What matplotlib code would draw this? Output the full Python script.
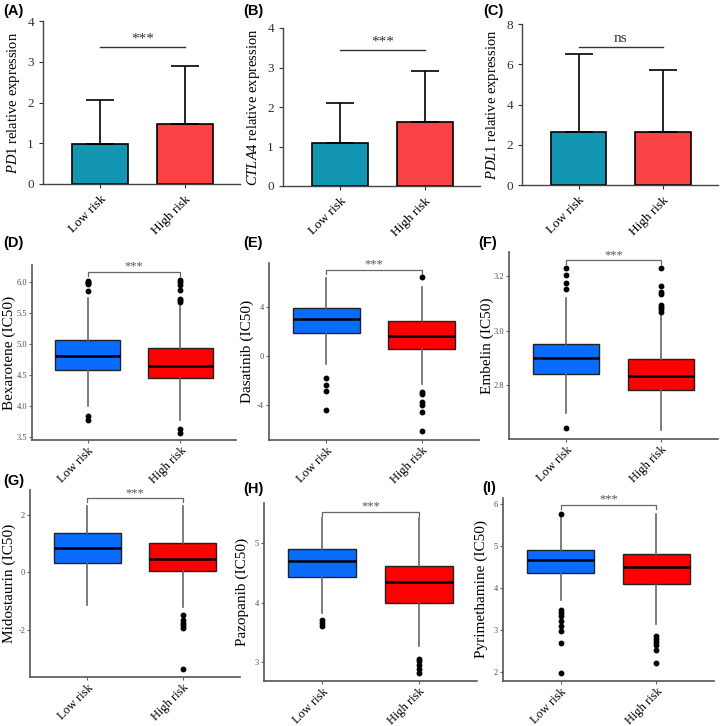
import matplotlib
matplotlib.use("Agg")
import matplotlib.pyplot as plt

# ---------------- data ----------------
groups = ["Low risk", "High risk"]

# bar panels (A-C): mean and upper error
pd1_mean = [0.97, 1.48]
pd1_err_top = [2.07, 2.90]
ctla4_mean = [1.10, 1.62]
ctla4_err_top = [2.10, 2.90]
pdl1_mean = [2.65, 2.62]
pdl1_err_top = [6.50, 5.70]
bar_sig = ["***", "***", "ns"]
bar_sig_y = [3.36, 3.44, 6.86]

# box panels (D-I): [low, high]
bexa_q1 = [4.58, 4.45]; bexa_med = [4.80, 4.64]; bexa_q3 = [5.06, 4.93]
bexa_lo = [3.99, 3.77]; bexa_hi = [5.74, 5.66]
bexa_fl = [[6.02, 6.00, 5.98, 5.96, 5.85, 3.83, 3.77],
           [6.03, 6.00, 5.95, 5.87, 5.72, 5.70, 5.68, 3.63, 3.57]]

dasa_q1 = [1.85, 0.55]; dasa_med = [3.03, 1.66]; dasa_q3 = [3.90, 2.82]
dasa_lo = [-0.70, -2.35]; dasa_hi = [6.40, 5.66]
dasa_fl = [[-1.79, -2.43, -2.90, -4.47],
           [6.43, -2.95, -3.10, -3.80, -4.00, -4.64, -6.20]]

embe_q1 = [2.843, 2.782]; embe_med = [2.899, 2.833]; embe_q3 = [2.951, 2.896]
embe_lo = [2.700, 2.636]; embe_hi = [3.118, 3.057]
embe_fl = [[3.230, 3.203, 3.174, 3.152, 2.645],
           [3.230, 3.164, 3.142, 3.135, 3.094, 3.086, 3.078, 3.069]]

mido_q1 = [0.34, 0.06]; mido_med = [0.84, 0.48]; mido_q3 = [1.38, 1.03]
mido_lo = [-1.14, -1.20]; mido_hi = [2.32, 2.32]
mido_fl = [[],
           [-1.49, -1.67, -1.76, -1.83, -1.96, -3.39]]

pazo_q1 = [4.43, 3.99]; pazo_med = [4.70, 4.35]; pazo_q3 = [4.90, 4.61]
pazo_lo = [3.82, 3.27]; pazo_hi = [5.42, 5.42]
pazo_fl = [[3.70, 3.65, 3.60],
           [3.05, 3.02, 2.95, 2.88, 2.82]]

pyri_q1 = [4.36, 4.09]; pyri_med = [4.67, 4.51]; pyri_q3 = [4.90, 4.81]
pyri_lo = [3.72, 3.15]; pyri_hi = [5.68, 5.78]
pyri_fl = [[5.77, 3.48, 3.42, 3.34, 3.21, 3.10, 2.99, 2.70, 1.99],
           [2.86, 2.78, 2.71, 2.65, 2.53, 2.21]]

box_sig_y = [6.16, 7.04, 3.258, 2.59, 5.53, 5.99]

# ---------------- style ----------------
plt.rcParams["font.family"] = ["Liberation Serif", "DejaVu Serif"]
plt.rcParams["mathtext.fontset"] = "custom"
plt.rcParams["mathtext.rm"] = "Liberation Serif"
plt.rcParams["mathtext.it"] = "Liberation Serif:italic"

W, H = 720, 726
fig = plt.figure(figsize=(W / 100, H / 100), dpi=100)


def ax_px(l, t, r, b):
    return fig.add_axes([l / W, 1 - b / H, (r - l) / W, (b - t) / H])


def panel_label(x, y, s):
    fig.text(x / W, 1 - y / H, s, fontsize=10.5, fontweight="bold",
             family=["Liberation Sans", "DejaVu Sans"], ha="left", va="center")


bar_cols = ["#1396B2", "#F84244"]
box_cols = ["#0A6CFF", "#FF0000"]

# ---------------- bar panels ----------------
bar_specs = [
    (pd1_mean, pd1_err_top, r"$\it{PD1}$ relative expression", (0, 4), [0, 1, 2, 3, 4], (43, 21, 240, 184), "(A)", 3),
    (ctla4_mean, ctla4_err_top, r"$\it{CTLA4}$ relative expression", (0, 4), [0, 1, 2, 3, 4], (283, 28, 480, 186), "(B)", 243),
    (pdl1_mean, pdl1_err_top, r"$\it{PDL1}$ relative expression", (0, 8), [0, 2, 4, 6, 8], (522, 24, 718, 185), "(C)", 483),
]
for i, (mean, top, ylab, ylim, yt, pos, lab, lx) in enumerate(bar_specs):
    ax = ax_px(*pos)
    x = list(range(len(groups)))
    err = [[0] * len(mean), [t - m for t, m in zip(top, mean)]]
    ax.bar(x, mean, width=0.66, color=bar_cols, edgecolor="black", linewidth=1.2,
           yerr=err, error_kw=dict(ecolor="black", elinewidth=1.2, capsize=10, capthick=1.2),
           zorder=2)
    ax.set_xlim(-0.67, 1.65)
    ax.set_ylim(*ylim)
    ax.set_yticks(yt)
    ax.set_xticks(x)
    ax.set_xticklabels(groups, rotation=45, ha="right", rotation_mode="anchor", fontsize=9.5)
    ax.tick_params(axis="y", labelsize=9.5, colors="#333333", length=3)
    ax.tick_params(axis="x", length=3, colors="#333333", labelcolor="black")
    for s in ["top", "right"]:
        ax.spines[s].set_visible(False)
    for s in ["left", "bottom"]:
        ax.spines[s].set_color("#444444")
        ax.spines[s].set_linewidth(1.0)
    ax.set_ylabel(ylab, fontsize=10.5, labelpad=4)
    ax.plot([0, 1], [bar_sig_y[i]] * 2, color="#333333", lw=1.0)
    ax.text(0.5, bar_sig_y[i] + (ylim[1] - ylim[0]) * 0.01, bar_sig[i], ha="center", va="bottom",
            fontsize=11, color="#333333")
    panel_label(lx, 11, lab)

# ---------------- box panels ----------------
box_specs = [
    (bexa_q1, bexa_med, bexa_q3, bexa_lo, bexa_hi, bexa_fl, "Bexarotene (IC50)",
     (3.45, 6.27), [3.5, 4.0, 4.5, 5.0, 5.5, 6.0], "%.1f", (32, 265, 236, 440), "(D)", 3, 243, 16),
    (dasa_q1, dasa_med, dasa_q3, dasa_lo, dasa_hi, dasa_fl, "Dasatinib (IC50)",
     (-6.9, 7.6), [-4, 0, 4], "%d", (269, 263, 479, 440), "(E)", 243, 243, 15),
    (embe_q1, embe_med, embe_q3, embe_lo, embe_hi, embe_fl, "Embelin (IC50)",
     (2.604, 3.288), [2.8, 3.0, 3.2], "%.1f", (509, 252, 718, 439), "(F)", 478, 243, 15),
    (mido_q1, mido_med, mido_q3, mido_lo, mido_hi, mido_fl, "Midostaurin (IC50)",
     (-3.66, 2.88), [-2, 0, 2], "%d", (30, 490, 240, 677), "(G)", 3, 481, 14),
    (pazo_q1, pazo_med, pazo_q3, pazo_lo, pazo_hi, pazo_fl, "Pazopanib (IC50)",
     (2.68, 5.68), [3, 4, 5], "%d", (264, 503, 477, 681), "(H)", 243, 489, 15),
    (pyri_q1, pyri_med, pyri_q3, pyri_lo, pyri_hi, pyri_fl, "Pyrimethamine (IC50)",
     (1.79, 6.15), [2, 3, 4, 5, 6], "%d", (503, 498, 714, 681), "(I)", 482, 488, 15),
]
for i, (q1, med, q3, lo, hi, fl, ylab, ylim, yt, fmt, pos, lab, lx, ly, loff) in enumerate(box_specs):
    ax = ax_px(*pos)
    stats = []
    for k in range(len(groups)):
        stats.append(dict(med=med[k], q1=q1[k], q3=q3[k], whislo=lo[k], whishi=hi[k],
                          fliers=fl[k], label=groups[k]))
    bp = ax.bxp(stats, positions=[1, 2], widths=0.7, patch_artist=True, showcaps=False,
                boxprops=dict(edgecolor="#222222", linewidth=1.0),
                medianprops=dict(color="black", linewidth=1.8),
                whiskerprops=dict(color="#666666", linewidth=1.2),
                flierprops=dict(marker="o", markerfacecolor="black", markeredgecolor="black",
                                markersize=3.2, linestyle="none"))
    for patch, c in zip(bp["boxes"], box_cols):
        patch.set_facecolor(c)
    ax.set_xlim(0.4, 2.6)
    ax.set_ylim(*ylim)
    ax.set_yticks(yt)
    ax.set_yticklabels([fmt % v for v in yt])
    ax.set_xticks([1, 2])
    ax.set_xticklabels(groups, rotation=45, ha="right", rotation_mode="anchor", fontsize=9)
    ax.tick_params(axis="y", labelsize=6, labelcolor="#4D4D4D", color="#666666", length=2, pad=1.5)
    ax.tick_params(axis="x", color="#666666", length=2.5, labelcolor="black", pad=1)
    for s in ["top", "right"]:
        ax.spines[s].set_visible(False)
    for s in ["left", "bottom"]:
        ax.spines[s].set_color("#555555")
        ax.spines[s].set_linewidth(1.2)
    ax.set_ylabel(ylab, fontsize=11)
    axw = pos[2] - pos[0]
    ax.yaxis.set_label_coords(-loff / axw, 0.5)
    yr = ylim[1] - ylim[0]
    sy = box_sig_y[i]
    ax.plot([1, 1, 2, 2], [sy - 0.022 * yr, sy, sy, sy - 0.022 * yr], color="#666666", lw=0.9)
    ax.text(1.5, sy - 0.005 * yr, "***", ha="center", va="bottom", fontsize=9, color="#555555")
    panel_label(lx, ly, lab)

fig.savefig("out.png", dpi=100)
